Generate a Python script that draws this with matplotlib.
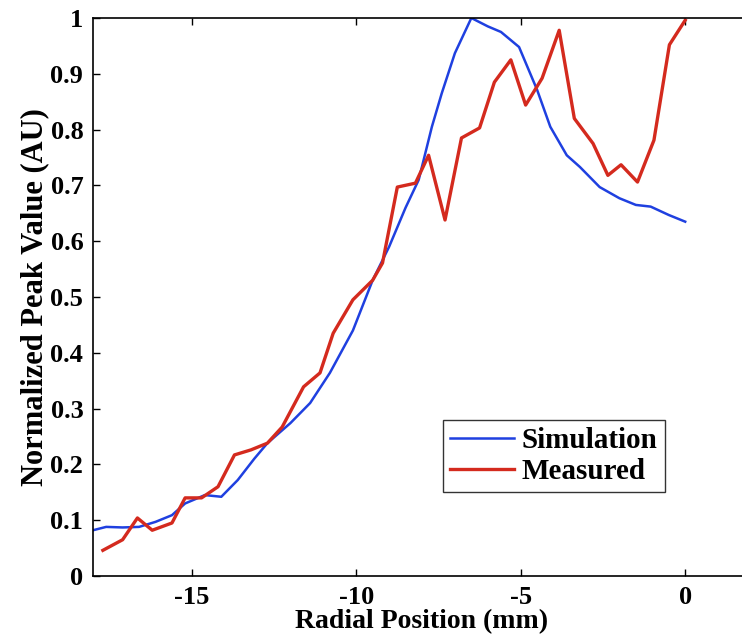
import matplotlib
matplotlib.use("Agg")
import matplotlib.pyplot as plt

sim_x = [-18.0, -17.6, -17.1, -16.6, -16.1, -15.6, -15.2, -14.6, -14.1, -13.6, -13.1, -12.7,
         -12.0, -11.4, -10.8, -10.1, -9.5, -9.0, -8.5, -8.1, -7.7, -7.4, -7.0, -6.5, -6.0,
         -5.6, -5.05, -4.5, -4.1, -3.6, -3.2, -2.6, -2.0, -1.5, -1.05, -0.5, 0.0]
sim_y = [0.082, 0.088, 0.087, 0.088, 0.097, 0.109, 0.13, 0.145, 0.142, 0.172, 0.21, 0.238,
         0.274, 0.31, 0.364, 0.44, 0.53, 0.59, 0.66, 0.71, 0.805, 0.865, 0.937, 1.0, 0.985,
         0.975, 0.948, 0.871, 0.805, 0.754, 0.733, 0.697, 0.677, 0.665, 0.662, 0.647, 0.635]

meas_x = [-17.7, -17.1, -16.65, -16.2, -15.6, -15.2, -14.7, -14.2, -13.7, -13.2, -12.7, -12.25,
          -11.6, -11.1, -10.7, -10.1, -9.5, -9.2, -8.75, -8.2, -7.8, -7.3, -6.8, -6.25, -5.8,
          -5.3, -4.85, -4.35, -3.83, -3.37, -2.8, -2.35, -1.95, -1.45, -0.95, -0.48, 0.0]
meas_y = [0.046, 0.065, 0.104, 0.082, 0.095, 0.14, 0.14, 0.16, 0.217, 0.226, 0.238, 0.267,
          0.339, 0.364, 0.435, 0.495, 0.53, 0.561, 0.697, 0.704, 0.754, 0.638, 0.785, 0.803, 0.885,
          0.925, 0.844, 0.892, 0.978, 0.82, 0.775, 0.718, 0.737, 0.706, 0.781, 0.952, 0.996]

x_ticks = [-15, -10, -5, 0]
y_ticks = [0, 0.1, 0.2, 0.3, 0.4, 0.5, 0.6, 0.7, 0.8, 0.9, 1]
y_ticklabels = ["0", "0.1", "0.2", "0.3", "0.4", "0.5", "0.6", "0.7", "0.8", "0.9", "1"]

plt.rcParams['font.family'] = ['Liberation Serif', 'DejaVu Serif']
plt.rcParams['font.weight'] = 'bold'

W, H = 742, 637
fig = plt.figure(figsize=(W / 100, H / 100), dpi=100)
left, bottom, top = 93, 576, 18
ax = fig.add_axes([left / W, (H - bottom) / H, 658 / W, (bottom - top) / H])

ax.plot(sim_x, sim_y, color='#1f40e0', lw=1.8, label='Simulation')
ax.plot(meas_x, meas_y, color='#d42a1e', lw=2.4, label='Measured')

ax.set_xlim(-18, 2)
ax.set_ylim(0, 1)
ax.set_xticks(x_ticks)
ax.set_xticklabels([str(t) for t in x_ticks])
ax.set_yticks(y_ticks)
ax.set_yticklabels(y_ticklabels)
ax.tick_params(direction='in', length=5, width=1, top=True, right=True,
               labelsize=19, pad=7)
for lab in ax.get_xticklabels() + ax.get_yticklabels():
    lab.set_fontweight('bold')
for sp in ax.spines.values():
    sp.set_linewidth(1.2)

ax.set_xlabel('Radial Position (mm)', fontsize=20, fontweight='bold', labelpad=0)
ax.set_ylabel('Normalized Peak Value (AU)', fontsize=22, fontweight='bold', labelpad=1)

leg = ax.legend(loc='upper left', bbox_to_anchor=(443 / W, 1 - 420 / H),
                bbox_transform=fig.transFigure, fontsize=21, frameon=True,
                fancybox=False, edgecolor='black', handlelength=2.2,
                handletextpad=0.25, borderpad=0.25, labelspacing=0.12,
                borderaxespad=0)
leg.get_frame().set_linewidth(1.0)
for t in leg.get_texts():
    t.set_fontweight('bold')

fig.savefig('out.png', dpi=100)
